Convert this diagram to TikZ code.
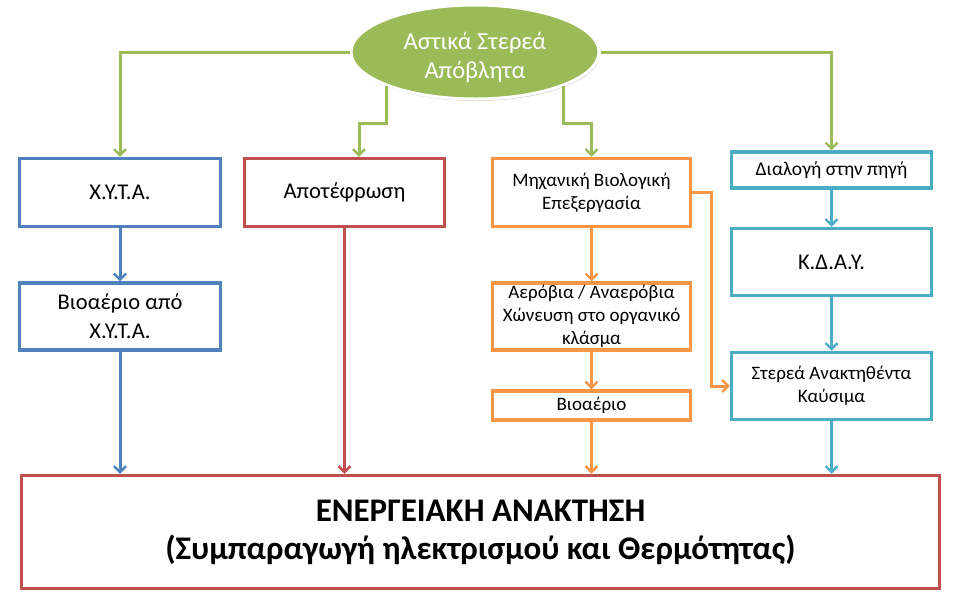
\documentclass[tikz,border=0pt]{standalone}
\usepackage{fontspec}
\setmainfont{Carlito}
\usetikzlibrary{arrows.meta,shapes.geometric,shadows}
\definecolor{cblue}{HTML}{4F81BD}
\definecolor{cred}{HTML}{C0504D}
\definecolor{corange}{HTML}{F79646}
\definecolor{ccyan}{HTML}{4BACC6}
\definecolor{cgreen}{HTML}{9BBB59}
\tikzset{
  box/.style={draw, line width=3.5pt, fill=white, align=center, inner sep=0pt, text=black},
  bigtxt/.style={font=\fontsize{22.5}{29}\selectfont},
  smtxt/.style={font=\fontsize{19}{23}\selectfont},
  conn/.style={line width=3pt, -{Straight Barb[length=6pt,width=12pt,line width=2.4pt]}},
}
\begin{document}
\begin{tikzpicture}[x=1pt,y=-1pt]
\useasboundingbox (0,0) rectangle (961,603);
% ellipse
\node[ellipse, fill=cgreen, draw=white, line width=3pt, minimum width=248pt, minimum height=94pt,
  drop shadow={shadow xshift=1pt,shadow yshift=-2pt,opacity=0.35},
  text=white, align=center, font=\fontsize{24.5}{29}\selectfont, inner sep=0pt] (ell) at (475,52)
  {\rule{0pt}{28pt}Αστικά Στερεά\\Απόβλητα};
% boxes
\node[box, draw=cblue, bigtxt, minimum width=201pt, minimum height=68pt] (xyta) at (120,192.5) {Χ.Υ.Τ.Α.};
\node[box, draw=cred, bigtxt, minimum width=200pt, minimum height=68pt] (apot) at (344.5,192.5) {Αποτέφρωση};
\node[box, draw=corange, smtxt, minimum width=198pt, minimum height=68pt] (mbt) at (591.5,192.5) {Μηχανική Βιολογική\\Επεξεργασία};
\node[box, draw=ccyan, font=\fontsize{19.5}{23}\selectfont, minimum width=200pt, minimum height=36pt] (dial) at (831.5,170) {Διαλογή στην πηγή};
\node[box, draw=cblue, bigtxt, minimum width=201pt, minimum height=67pt] (bio1) at (120,316.5) {Βιοαέριο από\\Χ.Υ.Τ.Α.};
\node[box, draw=corange, smtxt, minimum width=198pt, minimum height=67pt] (aer) at (591.5,316.5) {Αερόβια / Αναερόβια\\Χώνευση στο οργανικό\\κλάσμα};
\node[box, draw=corange, smtxt, minimum width=198pt, minimum height=29pt] (bio2) at (591.5,405.5) {Βιοαέριο};
\node[box, draw=ccyan, bigtxt, minimum width=200pt, minimum height=67pt] (kday) at (831.5,262) {Κ.Δ.Α.Υ.};
\node[box, draw=ccyan, smtxt, minimum width=200pt, minimum height=67pt] (srf) at (831.5,386) {Στερεά Ανακτηθέντα\\Καύσιμα};
\node[box, draw=cred, font=\bfseries\fontsize{33}{38}\selectfont, minimum width=918pt, minimum height=113pt] (en) at (480.5,532) {ΕΝΕΡΓΕΙΑΚΗ ΑΝΑΚΤΗΣΗ\\(Συμπαραγωγή ηλεκτρισμού και Θερμότητας)};
% green connectors
\draw[conn, cgreen] (ell.west) -| (xyta.north);
\draw[conn, cgreen] (ell.east) -| (dial.north);
\draw[conn, cgreen] (ell.south west) -- ++(0,37) -| ([xshift=14.5pt]apot.north);
\draw[conn, cgreen] (ell.south east) -- ++(0,37) -| (mbt.north);
% blue
\draw[conn, cblue] (xyta.south) -- (bio1.north);
\draw[conn, cblue] (bio1.south) -- (bio1.south |- en.north);
% red
\draw[conn, cred] (apot.south) -- (apot.south |- en.north);
% orange
\draw[conn, corange] (mbt.east) -- ++(19,0) |- (srf.west);
\draw[conn, corange] (mbt.south) -- (aer.north);
\draw[conn, corange] (aer.south) -- (bio2.north);
\draw[conn, corange] (bio2.south) -- (bio2.south |- en.north);
% cyan
\draw[conn, ccyan] (dial.south) -- (kday.north);
\draw[conn, ccyan] (kday.south) -- (srf.north);
\draw[conn, ccyan] (srf.south) -- (srf.south |- en.north);
\end{tikzpicture}
\end{document}
